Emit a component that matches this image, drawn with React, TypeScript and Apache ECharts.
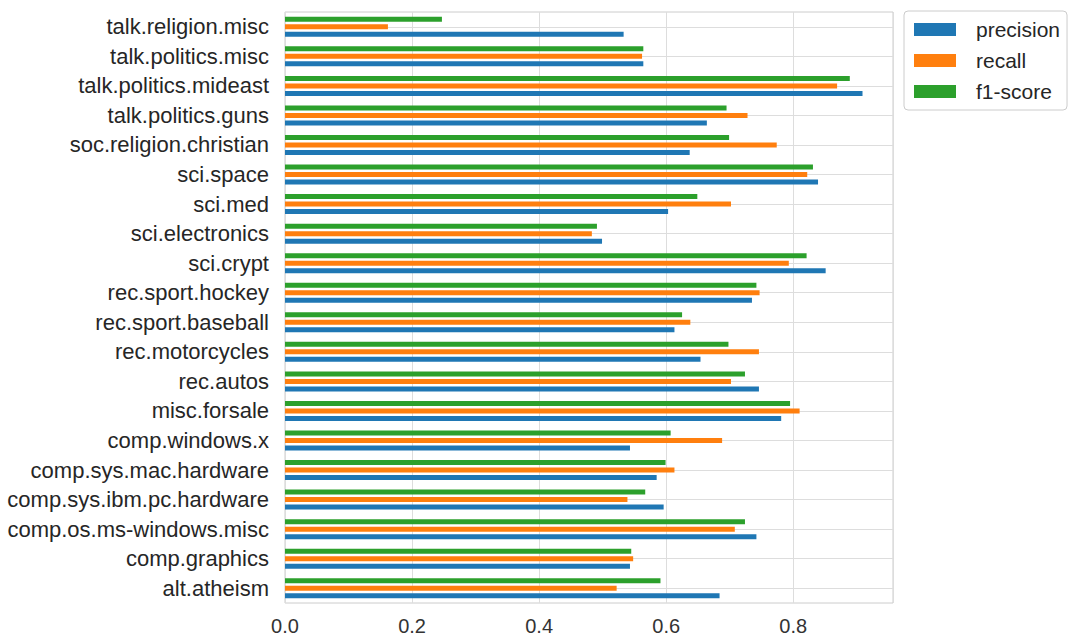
import React, { useEffect, useRef } from "react";
import * as echarts from "echarts";

const categories = [
  "alt.atheism",
  "comp.graphics",
  "comp.os.ms-windows.misc",
  "comp.sys.ibm.pc.hardware",
  "comp.sys.mac.hardware",
  "comp.windows.x",
  "misc.forsale",
  "rec.autos",
  "rec.motorcycles",
  "rec.sport.baseball",
  "rec.sport.hockey",
  "sci.crypt",
  "sci.electronics",
  "sci.med",
  "sci.space",
  "soc.religion.christian",
  "talk.politics.guns",
  "talk.politics.mideast",
  "talk.politics.misc",
  "talk.religion.misc",
];

const precision = [0.684, 0.543, 0.742, 0.596, 0.585, 0.543, 0.781, 0.746, 0.654, 0.613, 0.735, 0.851, 0.499, 0.603, 0.839, 0.637, 0.664, 0.909, 0.564, 0.533];
const recall = [0.522, 0.548, 0.708, 0.539, 0.613, 0.688, 0.81, 0.702, 0.746, 0.638, 0.747, 0.793, 0.483, 0.702, 0.822, 0.774, 0.728, 0.869, 0.562, 0.162];
const f1 = [0.591, 0.545, 0.724, 0.567, 0.599, 0.607, 0.795, 0.724, 0.698, 0.625, 0.742, 0.821, 0.491, 0.649, 0.831, 0.699, 0.695, 0.889, 0.564, 0.247];

const xTicks = [0, 0.2, 0.4, 0.6, 0.8];
const xMax = 0.957;

export default function App() {
  const ref = useRef<HTMLDivElement>(null);
  useEffect(() => {
    document.body.style.margin = "0";
    const chart = echarts.init(ref.current!, null, { renderer: "svg" });
    const font = "'Liberation Sans', Arial, sans-serif";
    const mk = (name: string, data: number[], color: string) => ({
      name,
      type: "bar",
      data,
      barWidth: 5,
      barGap: "50%",
      itemStyle: { color },
    });
    chart.setOption({
      animation: false,
      backgroundColor: "#ffffff",
      textStyle: { fontFamily: font },
      grid: {
        left: 285,
        right: 178,
        top: 12,
        bottom: 36,
        show: true,
        borderColor: "#cccccc",
        borderWidth: 1,
      },
      legend: {
        orient: "vertical",
        left: 904,
        top: 11,
        padding: [8, 7, 8, 10],
        itemWidth: 42,
        itemHeight: 13,
        itemGap: 10,
        icon: "rect",
        borderColor: "#cccccc",
        borderWidth: 1,
        borderRadius: 4,
        backgroundColor: "#ffffff",
        data: ["precision", "recall", "f1-score"],
        textStyle: { fontSize: 21, color: "#262626", fontFamily: font, padding: [0, 0, 0, 15] },
      },
      xAxis: {
        type: "value",
        min: 0,
        max: xMax,
        interval: 0.2,
        axisLine: { show: false },
        axisTick: { show: false },
        splitLine: { show: true, lineStyle: { color: "#dddddd", width: 1 } },
        axisLabel: {
          fontSize: 20,
          color: "#333333",
          margin: 13,
          showMaxLabel: false,
          formatter: (v: number) => (xTicks.some((t) => Math.abs(t - v) < 1e-6) ? v.toFixed(1) : ""),
        },
      },
      yAxis: {
        type: "category",
        data: categories,
        axisLine: { show: false },
        axisTick: { show: false, alignWithLabel: true },
        splitLine: { show: true, alignWithLabel: true, lineStyle: { color: "#dddddd", width: 1 } },
        axisLabel: { fontSize: 22, color: "#262626", margin: 16 },
      },
      series: [
        mk("f1-score", f1, "#2ca02c"),
        mk("recall", recall, "#ff7f0e"),
        mk("precision", precision, "#1f77b4"),
      ],
    });
    return () => chart.dispose();
  }, []);
  return <div ref={ref} style={{ width: 1071, height: 639 }} />;
}
